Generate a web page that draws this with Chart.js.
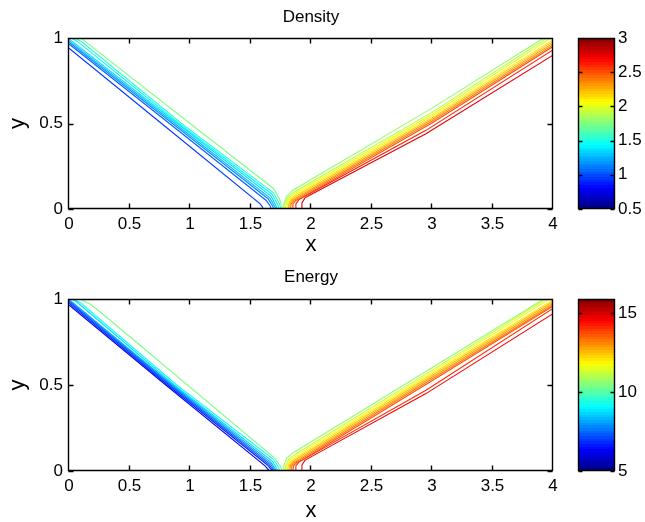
<!DOCTYPE html>
<html>
<head>
<meta charset="utf-8">
<script src="https://cdn.jsdelivr.net/npm/chart.js@4.4.0/dist/chart.umd.min.js"></script>
<style>
body { margin: 0; background: #fff; width: 645px; height: 522px; position: relative; overflow: hidden; }
.box { position: absolute; }
</style>
</head>
<body>
<div class="box" style="left:0;top:0;width:570px;height:262px"><canvas id="densityChart"></canvas></div>
<div class="box" style="left:570px;top:0;width:75px;height:262px"><canvas id="densityBar"></canvas></div>
<div class="box" style="left:0;top:262px;width:570px;height:260px"><canvas id="energyChart"></canvas></div>
<div class="box" style="left:570px;top:262px;width:75px;height:260px"><canvas id="energyBar"></canvas></div>
<script>
// axes
const xTicks = [0, 0.5, 1, 1.5, 2, 2.5, 3, 3.5, 4];
const yTicks = [0, 0.5, 1];

// colour limits and colorbar ticks
const densityRange = [0.5, 3];
const densityBarTicks = [0.5, 1, 1.5, 2, 2.5, 3];
const energyRange = [5, 15.9];
const energyBarTicks = [5, 10, 15];

// Density contours: level of each line, then the line as [x, y] points
const densityLevels = [0.95, 1.05, 1.15, 1.25, 1.35, 1.45, 1.55, 1.75,
                       1.8, 1.9, 2.0, 2.1, 2.2, 2.3, 2.4, 2.5, 2.62, 2.75];
const densityLines = [
  [[0,0.94],[0.765,0.5],[1.58,0.03],[1.60,0.01],[1.60,0]],
  [[0,0.965],[0.83,0.5],[1.63,0.05],[1.665,0.015],[1.67,0]],
  [[0,0.975],[0.855,0.5],[1.645,0.06],[1.685,0.015],[1.69,0]],
  [[0,0.985],[0.875,0.5],[1.66,0.065],[1.70,0.015],[1.71,0]],
  [[0,0.995],[0.895,0.5],[1.67,0.075],[1.71,0.02],[1.72,0]],
  [[0.02,1],[0.07,0.98],[0.91,0.5],[1.68,0.085],[1.725,0.025],[1.735,0]],
  [[0.05,1],[0.11,0.975],[0.93,0.5],[1.69,0.095],[1.74,0.03],[1.75,0]],
  [[0.1,1],[0.17,0.96],[1.0,0.5],[1.69,0.12],[1.74,0.06],[1.76,0.01],[1.765,0]],
  [[1.77,0],[1.775,0.03],[1.80,0.075],[1.85,0.11],[3.0,0.59],[3.9,0.99],[3.93,1]],
  [[1.78,0],[1.785,0.03],[1.81,0.07],[1.86,0.10],[3.0,0.565],[3.95,1]],
  [[1.79,0],[1.795,0.03],[1.82,0.065],[1.87,0.092],[3.0,0.553],[3.98,1]],
  [[1.80,0],[1.805,0.03],[1.83,0.06],[1.88,0.085],[3.0,0.543],[4,0.99]],
  [[1.81,0],[1.815,0.03],[1.84,0.058],[1.89,0.08],[3.0,0.533],[4,0.98]],
  [[1.82,0],[1.826,0.03],[1.85,0.055],[1.90,0.075],[3.0,0.523],[4,0.97]],
  [[1.83,0],[1.836,0.03],[1.86,0.052],[1.91,0.07],[3.0,0.513],[4,0.96]],
  [[1.845,0],[1.85,0.03],[1.875,0.05],[1.925,0.068],[3.0,0.503],[4,0.95]],
  [[1.87,0],[1.875,0.03],[1.90,0.055],[1.95,0.075],[2.95,0.46],[4,0.93]],
  [[1.92,0],[1.925,0.035],[1.95,0.065],[2.0,0.085],[2.95,0.44],[4,0.90]]
];

// Energy contours
const energyLevels = [6.2, 6.7, 7.2, 7.7, 8.2, 8.7, 9.2, 10.4,
                      10.7, 11.2, 11.7, 12.1, 12.5, 12.9, 13.3, 13.7, 14.1, 14.6];
const energyLines = [
  [[0,0.965],[0.80,0.5],[1.62,0.03],[1.645,0.01],[1.65,0]],
  [[0,0.975],[0.815,0.5],[1.64,0.035],[1.67,0.01],[1.675,0]],
  [[0,0.983],[0.83,0.5],[1.65,0.04],[1.683,0.01],[1.69,0]],
  [[0,0.99],[0.843,0.5],[1.66,0.045],[1.695,0.01],[1.70,0]],
  [[0,0.997],[0.856,0.5],[1.67,0.05],[1.705,0.012],[1.71,0]],
  [[0.02,1],[0.06,0.985],[0.87,0.5],[1.68,0.058],[1.718,0.015],[1.725,0]],
  [[0.04,1],[0.1,0.975],[0.89,0.5],[1.69,0.068],[1.733,0.02],[1.74,0]],
  [[0.09,1],[0.17,0.972],[0.256,0.926],[1.70,0.075],[1.745,0.03],[1.76,0.005],[1.765,0]],
  [[1.77,0],[1.775,0.03],[1.80,0.075],[1.85,0.105],[3.0,0.60],[3.9,0.99],[3.93,1]],
  [[1.785,0],[1.79,0.03],[1.815,0.068],[1.865,0.095],[3.0,0.585],[3.94,1]],
  [[1.795,0],[1.80,0.03],[1.825,0.063],[1.875,0.088],[3.0,0.575],[3.97,1]],
  [[1.805,0],[1.81,0.03],[1.835,0.058],[1.885,0.082],[3.0,0.565],[4,0.995]],
  [[1.815,0],[1.82,0.03],[1.845,0.055],[1.895,0.077],[3.0,0.555],[4,0.985]],
  [[1.825,0],[1.83,0.03],[1.855,0.052],[1.905,0.072],[3.0,0.545],[4,0.975]],
  [[1.835,0],[1.84,0.03],[1.865,0.05],[1.915,0.068],[3.0,0.535],[4,0.965]],
  [[1.85,0],[1.855,0.03],[1.88,0.048],[1.93,0.066],[3.0,0.525],[4,0.958]],
  [[1.87,0],[1.875,0.03],[1.90,0.052],[1.95,0.072],[2.95,0.47],[4,0.945]],
  [[1.92,0],[1.925,0.035],[1.95,0.062],[2.0,0.082],[2.95,0.45],[4,0.915]]
];

Chart.defaults.font.family = "'Liberation Sans', Arial, sans-serif";
Chart.defaults.color = '#000';
Chart.defaults.animation = false;

// matlab jet colormap
function jet(t) {
  const c = v => Math.round(255 * Math.max(0, Math.min(1, v)));
  return `rgb(${c(1.5 - Math.abs(4 * t - 3))},${c(1.5 - Math.abs(4 * t - 2))},${c(1.5 - Math.abs(4 * t - 1))})`;
}

// black box with small inward ticks, like matlab axes
const frame = {
  id: 'frame',
  afterDraw(chart, args, opts) {
    const { ctx, chartArea: a } = chart;
    const L = Math.round(a.left) - 0.5, R = Math.round(a.right) - 0.5;
    const T = Math.round(a.top) + 0.5, B = Math.round(a.bottom) - 0.5;
    const n = opts.len;
    ctx.save();
    ctx.strokeStyle = '#000';
    ctx.lineWidth = 1.4;
    ctx.beginPath();
    ctx.rect(L, T, R - L, B - T);
    const y = chart.scales.y;
    y.ticks.forEach(t => {
      const p = Math.round(y.getPixelForValue(t.value)) + 0.5;
      ctx.moveTo(L, p); ctx.lineTo(L + n, p);
      ctx.moveTo(R, p); ctx.lineTo(R - n, p);
    });
    if (opts.xTicks) {
      const x = chart.scales.x;
      x.ticks.forEach(t => {
        const p = Math.round(x.getPixelForValue(t.value)) - 0.5;
        ctx.moveTo(p, B); ctx.lineTo(p, B - n);
        ctx.moveTo(p, T); ctx.lineTo(p, T + n);
      });
    }
    ctx.stroke();
    ctx.restore();
  }
};

function contourChart(id, title, levels, lines, range, t) {
  return new Chart(document.getElementById(id), {
    type: 'scatter',
    data: {
      datasets: lines.map((pts, i) => ({
        data: pts.map(p => ({ x: p[0], y: p[1] })),
        showLine: true,
        pointRadius: 0,
        borderWidth: 1.1,
        borderColor: jet((levels[i] - range[0]) / (range[1] - range[0]))
      }))
    },
    options: {
      responsive: true,
      maintainAspectRatio: false,
      layout: { padding: { left: 0, right: 17, top: 0, bottom: 0 } },
      plugins: {
        legend: { display: false },
        tooltip: { enabled: false },
        title: {
          display: true, text: title, fullSize: false,
          font: { size: 17, weight: 'normal' },
          padding: { top: t.titleTop, bottom: t.titleBottom }
        },
        frame: { len: 5, xTicks: true }
      },
      scales: {
        x: {
          type: 'linear', min: 0, max: 4,
          grid: { display: false, drawTicks: false },
          border: { display: false },
          afterBuildTicks: s => { s.ticks = xTicks.map(v => ({ value: v })); },
          afterFit: s => { s.height = t.xHeight; },
          ticks: { callback: v => String(v), padding: 5, font: { size: 17 }, maxRotation: 0, autoSkip: false },
          title: { display: true, text: 'x', font: { size: 22, lineHeight: 1 }, padding: { top: 0, bottom: t.xTitlePad } }
        },
        y: {
          type: 'linear', min: 0, max: 1,
          grid: { display: false, drawTicks: false },
          border: { display: false },
          afterBuildTicks: s => { s.ticks = yTicks.map(v => ({ value: v })); },
          afterFit: s => { s.width = 69; },
          ticks: { callback: v => String(v), padding: 6, font: { size: 17 } },
          title: { display: true, text: 'y', font: { size: 22, lineHeight: 1 }, padding: { top: 7, bottom: 0 } }
        }
      }
    },
    plugins: [frame]
  });
}

function colorBar(id, range, ticks, top, bottom) {
  return new Chart(document.getElementById(id), {
    type: 'bar',
    data: {
      labels: [''],
      datasets: [{
        data: [range],
        borderWidth: 0,
        barPercentage: 1,
        categoryPercentage: 1,
        backgroundColor: c => {
          const a = c.chart.chartArea;
          if (!a) return '#000';
          const g = c.chart.ctx.createLinearGradient(0, a.bottom, 0, a.top);
          for (let i = 0; i < 64; i++) {
            const col = jet((i + 0.5) / 64);
            g.addColorStop(i / 64, col);
            g.addColorStop((i + 1) / 64, col);
          }
          return g;
        }
      }]
    },
    options: {
      responsive: true,
      maintainAspectRatio: false,
      layout: { padding: { left: 9, right: 0, top: top, bottom: bottom } },
      plugins: {
        legend: { display: false },
        tooltip: { enabled: false },
        frame: { len: 4, xTicks: false }
      },
      scales: {
        x: { display: false },
        y: {
          position: 'right', min: range[0], max: range[1],
          grid: { display: false, drawTicks: false },
          border: { display: false },
          afterBuildTicks: s => { s.ticks = ticks.map(v => ({ value: v })); },
          afterFit: s => { s.width = 30; },
          ticks: { callback: v => String(v), padding: 3, font: { size: 17 } }
        }
      }
    },
    plugins: [frame]
  });
}

contourChart('densityChart', 'Density', densityLevels, densityLines, densityRange,
  { titleTop: 7.6, titleBottom: 10, xHeight: 53, xTitlePad: 6 });
colorBar('densityBar', densityRange, densityBarTicks, 38, 53);
contourChart('energyChart', 'Energy', energyLevels, energyLines, energyRange,
  { titleTop: 4.8, titleBottom: 11.8, xHeight: 51, xTitlePad: 0 });
colorBar('energyBar', energyRange, energyBarTicks, 37, 51);
</script>
</body>
</html>
